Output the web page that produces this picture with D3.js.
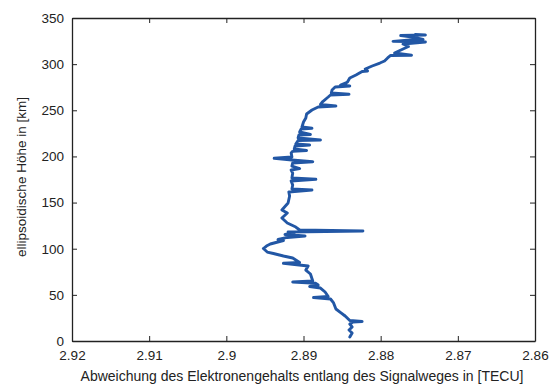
<!DOCTYPE html>
<html><head><meta charset="utf-8">
<script src="https://cdn.jsdelivr.net/npm/d3@7"></script>
<style>body{margin:0;background:#fff}svg{display:block}text{font-family:"Liberation Sans",Arial,sans-serif}</style>
</head><body>
<svg id="c" width="554" height="387"></svg>
<script>
const heights = [4.3,8.7,11.9,15.2,18.4,20.6,21.1,22.2,27.1,30.3,34.7,41.2,45.5,47.1,48.2,53.1,57.4,59.1,60.7,62.5,63.9,65,72.6,76.9,81.3,84.2,85.1,89.9,92.1,94.8,96.4,100.2,102.9,105.1,108.9,110.0,112.2,113.8,115.4,117.0,118.1,119.2,120.3,123.5,127.9,133.3,138.7,142.0,149.5,157.1,161.5,163.6,164.7,169.0,173.4,175.2,176.6,182.0,185.3,186.9,189.6,192.9,194.3,196.1,198.0,199.4,203.7,205.5,206.4,208.0,211.3,212.4,213.5,217.3,217.8,220.0,223.2,223.8,226.5,229.7,230.5,231.9,237.3,241.6,246.0,250.3,253.6,254.6,256.3,259.5,264.4,266.6,267.3,268.7,272.0,275.2,276.3,277.4,279.6,280.6,285.0,288.2,292.0,292.6,294.7,298.0,301.2,303.4,306.7,309.4,309.6,312.1,316.4,319.1,321.8,324.0,324.5,324.7,326.2,326.7,329.4,331.0,331.6,332.1];
const tecu = [2.8840,2.8837,2.8841,2.8837,2.8840,2.8836,2.8824,2.8840,2.8846,2.8851,2.8858,2.8861,2.8865,2.8887,2.8868,2.8872,2.8878,2.8892,2.8881,2.8884,2.8914,2.8888,2.8891,2.8897,2.8894,2.8926,2.8905,2.8914,2.8926,2.8939,2.8947,2.8952,2.8948,2.8943,2.8926,2.8933,2.8921,2.8898,2.8924,2.8912,2.8920,2.8823,2.8905,2.8910,2.8921,2.8928,2.8921,2.8928,2.8920,2.8918,2.8919,2.8889,2.8915,2.8914,2.8916,2.8884,2.8915,2.8914,2.8916,2.8905,2.8915,2.8914,2.8888,2.8915,2.8938,2.8915,2.8916,2.8914,2.8896,2.8912,2.8911,2.8892,2.8910,2.8907,2.8878,2.8907,2.8906,2.8891,2.8905,2.8903,2.8889,2.8902,2.8900,2.8897,2.8896,2.8889,2.8881,2.8858,2.8878,2.8875,2.8868,2.8865,2.8841,2.8864,2.8863,2.8859,2.8840,2.8852,2.8845,2.8843,2.8840,2.8832,2.8824,2.8817,2.8820,2.8811,2.8801,2.8795,2.8791,2.8787,2.8760,2.8782,2.8771,2.8764,2.8771,2.8742,2.8767,2.8784,2.8762,2.8745,2.8759,2.8774,2.8742,2.8755];
const xTicks = [2.92,2.91,2.90,2.89,2.88,2.87,2.86];
const xTickLabels = ["2.92","2.91","2.9","2.89","2.88","2.87","2.86"];
const yTicks = [0,50,100,150,200,250,300,350];
const xLabel = "Abweichung des Elektronengehalts entlang des Signalweges in [TECU]";
const yLabel = "ellipsoidische Höhe in [km]";

const L=72,R=535,T=18,B=341;
const x = d3.scaleLinear().domain([2.92,2.86]).range([L,R]);
const y = d3.scaleLinear().domain([0,350]).range([B,T]);
const svg = d3.select("#c");

const data = heights.map((h,i)=>({h, v:tecu[i]}));
svg.append("path").datum(data)
  .attr("fill","none").attr("stroke","#2257a5").attr("stroke-width",2.9)
  .attr("stroke-linejoin","round").attr("stroke-linecap","round")
  .attr("d", d3.line().x(d=>x(d.v)).y(d=>y(d.h)));

const fmt = d => xTickLabels[xTicks.indexOf(d)];
const gx = svg.append("g").attr("transform",`translate(0,${B})`)
  .call(d3.axisBottom(x).tickValues(xTicks).tickFormat(fmt).tickSizeInner(-5).tickSizeOuter(0).tickPadding(9));
const gxt = svg.append("g").attr("transform",`translate(0,${T})`)
  .call(d3.axisTop(x).tickValues(xTicks).tickFormat("").tickSizeInner(-5).tickSizeOuter(0));
const gy = svg.append("g").attr("transform",`translate(${L},0)`)
  .call(d3.axisLeft(y).tickValues(yTicks).tickFormat(d3.format("d")).tickSizeInner(-5).tickSizeOuter(0).tickPadding(8));
const gyr = svg.append("g").attr("transform",`translate(${R},0)`)
  .call(d3.axisRight(y).tickValues(yTicks).tickFormat("").tickSizeInner(-5).tickSizeOuter(0));
[gx,gxt,gy,gyr].forEach(g=>{
  g.select(".domain").attr("stroke","#222").attr("stroke-width",1.3);
  g.selectAll(".tick line").attr("stroke","#222");
  g.selectAll("text").attr("font-size",13.5).attr("fill","#222").attr("font-family","Liberation Sans, Arial, sans-serif");
});
svg.append("text").attr("x",302).attr("y",381).attr("text-anchor","middle")
  .attr("font-size",14).attr("fill","#222").text(xLabel);
svg.append("text").attr("transform",`translate(26,177) rotate(-90)`).attr("text-anchor","middle")
  .attr("font-size",13.5).attr("fill","#222").text(yLabel);
</script>
</body></html>
